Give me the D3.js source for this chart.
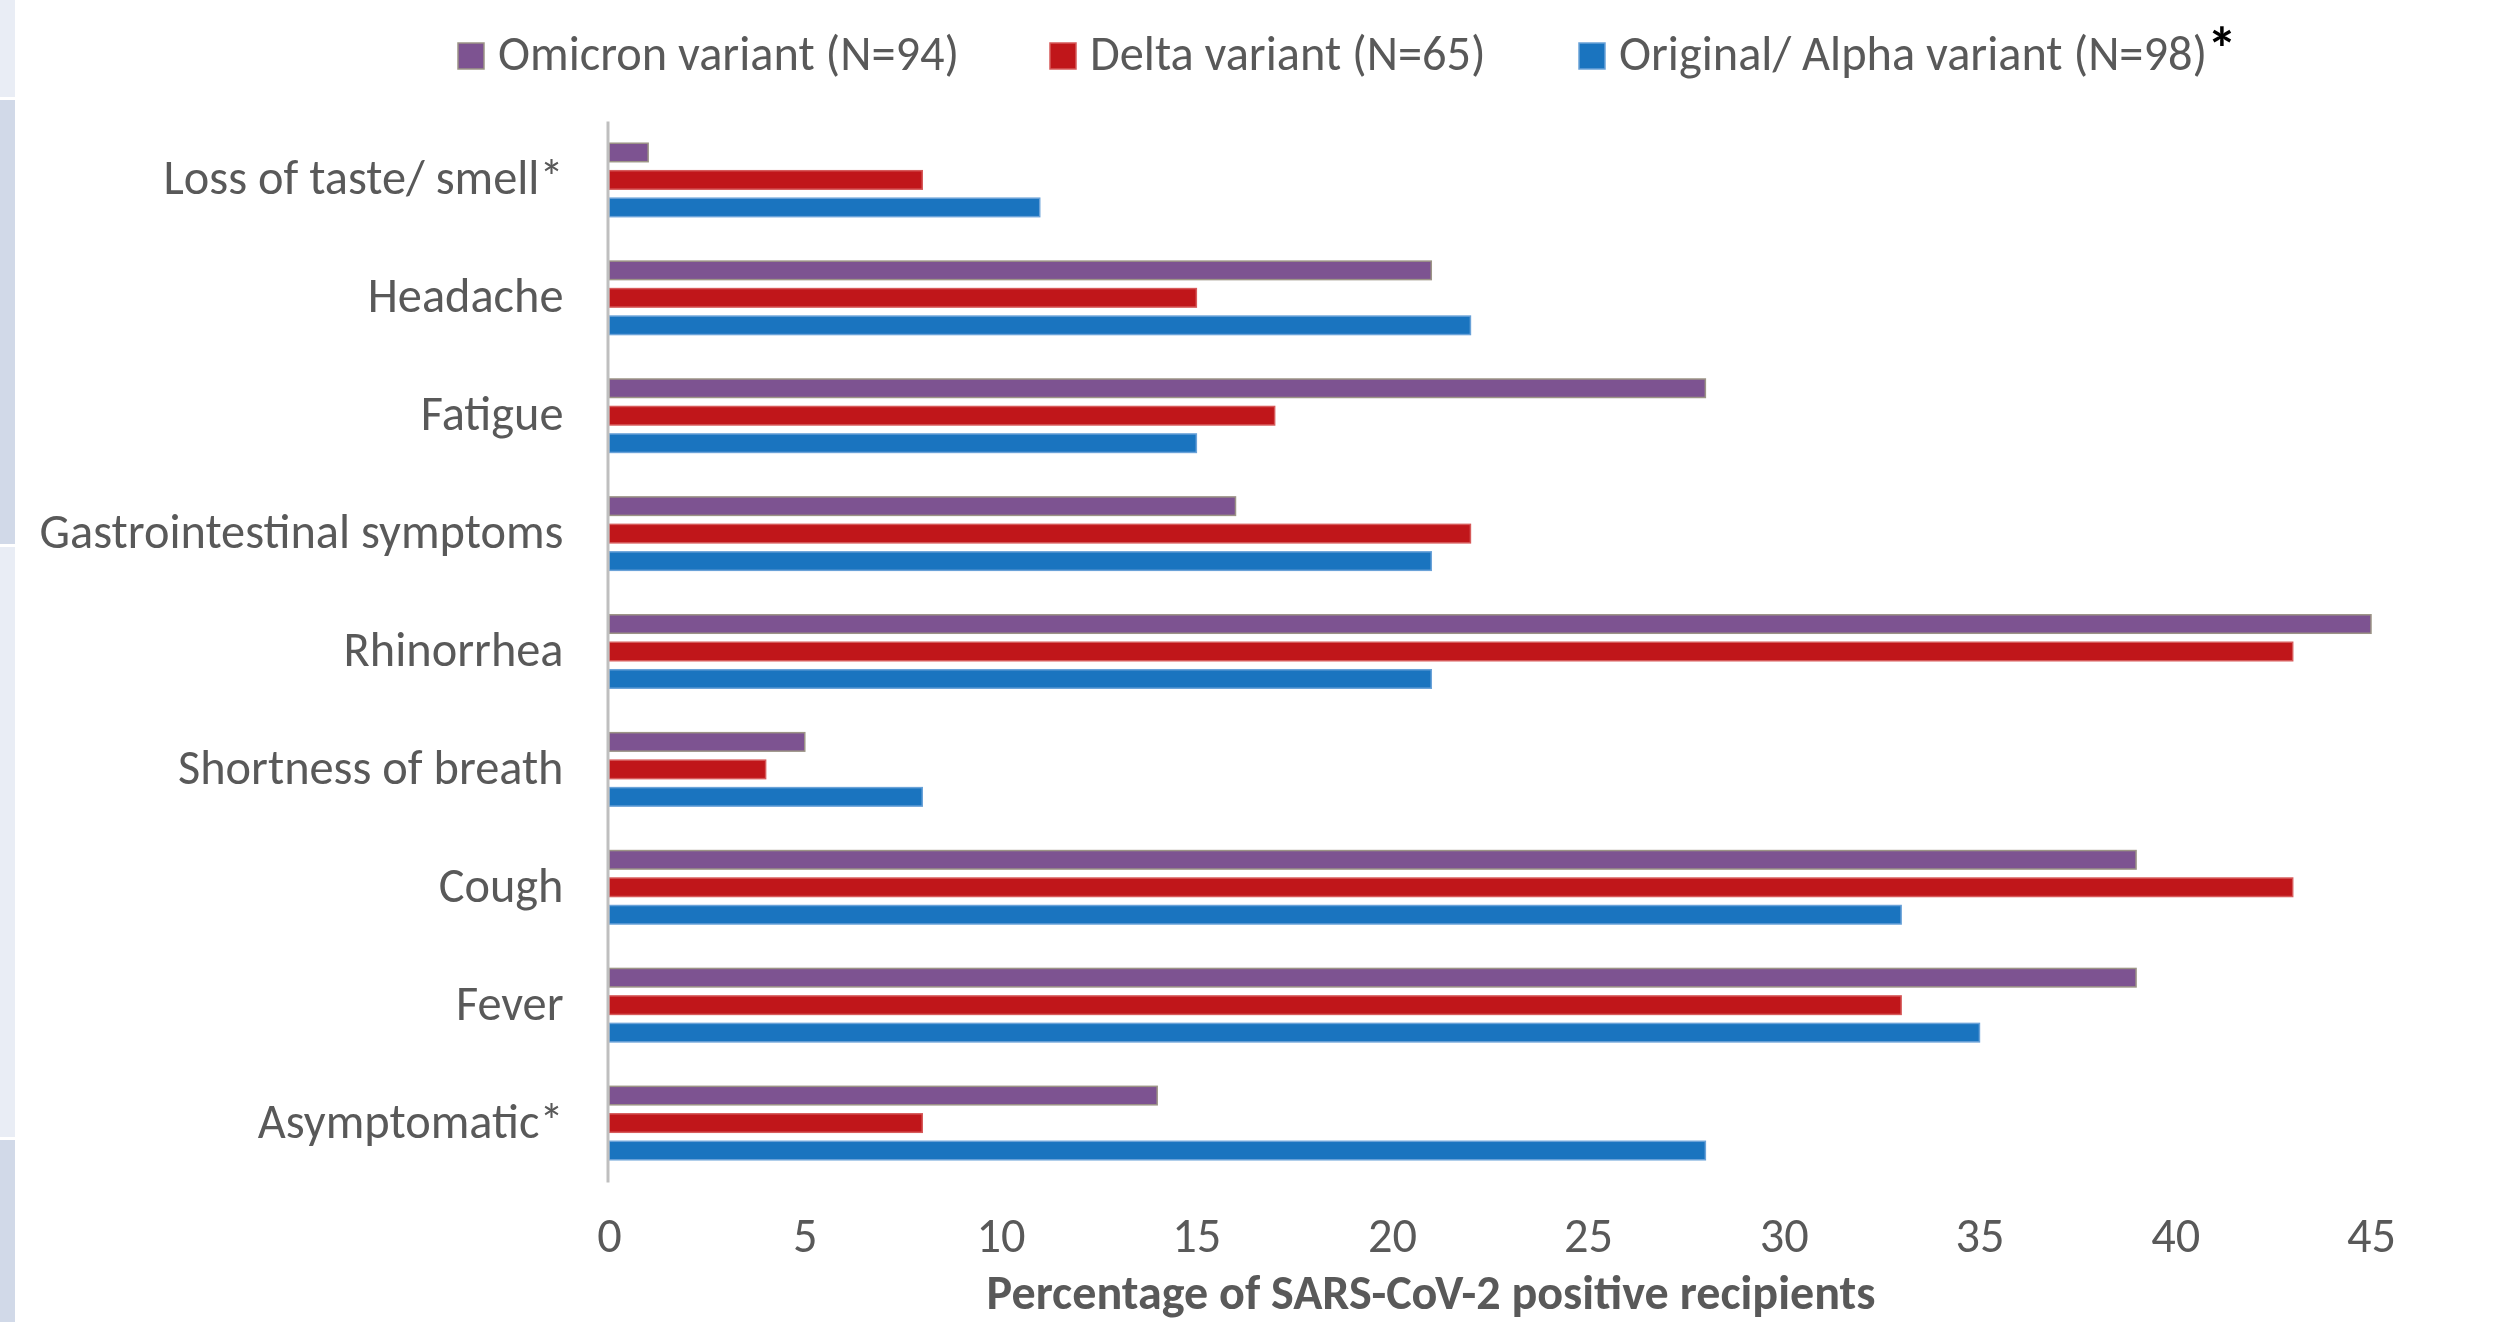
<!DOCTYPE html>
<html>
<head>
<meta charset="utf-8">
<script src="https://cdn.jsdelivr.net/npm/d3@7"></script>
<style>
  html, body { margin: 0; padding: 0; background: #ffffff; }
  svg { display: block; }
  text { font-family: Carlito, Lato, "Open Sans", sans-serif; fill: #595959; }
</style>
</head>
<body>
<svg id="chart" width="2507" height="1322"></svg>
<script>
// Symptom categories, top to bottom
const categories = [
  "Loss of taste/ smell*",
  "Headache",
  "Fatigue",
  "Gastrointestinal symptoms",
  "Rhinorrhea",
  "Shortness of breath",
  "Cough",
  "Fever",
  "Asymptomatic*"
];

// Series names (legend order) and their colours
const seriesNames = ["Omicron variant (N=94)", "Delta variant (N=65)", "Original/ Alpha variant (N=98)"];
const seriesColors = ["#7D5391", "#C0161A", "#1A74BF"];
const seriesEdges = ["#9C9486", "#D65A5A", "#6AA2D8"];

// Percentage of SARS-CoV-2 positive recipients reporting each symptom
const omicronValues = [1, 21, 28, 16, 45, 5, 39, 39, 14];
const deltaValues   = [8, 15, 17, 22, 43, 4, 43, 33, 8];
const alphaValues   = [11, 22, 15, 21, 21, 8, 33, 35, 28];

const xTickValues = [0, 5, 10, 15, 20, 25, 30, 35, 40, 45];
const xAxisTitle = "Percentage of SARS-CoV-2 positive recipients";

const seriesValues = [omicronValues, deltaValues, alphaValues];
const rows = categories.map((c, i) => ({
  category: c,
  values: seriesNames.map((s, j) => ({ series: s, idx: j, value: seriesValues[j][i] }))
}));

const svg = d3.select("#chart");

// Pale side bands along the left edge of the page
const sideBands = [
  { y0: 0, y1: 97, color: "#E9EDF5" },
  { y0: 100, y1: 544, color: "#D1D9E8" },
  { y0: 547, y1: 1137, color: "#E9EDF5" },
  { y0: 1140, y1: 1322, color: "#D1D9E8" }
];
svg.append("g").selectAll("rect").data(sideBands).join("rect")
  .attr("x", 0).attr("width", 15)
  .attr("y", d => d.y0).attr("height", d => d.y1 - d.y0)
  .attr("fill", d => d.color);

// Fit the substitute font to the Calibri-like metrics of the layout
function fitSize(sample, targetWidth, weight) {
  const t = svg.append("text").attr("font-size", 48).attr("font-weight", weight).text(sample);
  const w = t.node().getComputedTextLength();
  t.remove();
  return 48 * targetWidth / w;
}
const fontSize = fitSize("Gastrointestinal symptoms", 524, "normal");
const titleSize = fitSize(xAxisTitle, 889, "bold");

const plot = { left: 609, right: 2371, top: 121, bottom: 1182 };

const x = d3.scaleLinear().domain([0, 45]).range([plot.left, plot.right]);
const y = d3.scaleBand().domain(categories).range([plot.top, plot.bottom])
  .paddingInner(0.377).paddingOuter(0.1885);
const ySub = d3.scaleBand().domain(d3.range(seriesNames.length)).range([0, y.bandwidth()])
  .paddingInner(0.327);

// Bars
const groups = svg.append("g").selectAll("g").data(rows).join("g")
  .attr("transform", d => `translate(0,${y(d.category)})`);
groups.selectAll("rect").data(d => d.values).join("rect")
  .attr("x", x(0))
  .attr("y", d => ySub(d.idx))
  .attr("width", d => x(d.value) - x(0))
  .attr("height", ySub.bandwidth())
  .attr("fill", d => seriesColors[d.idx])
  .attr("stroke", d => seriesEdges[d.idx])
  .attr("stroke-width", 1.5);

// Category axis (vertical line + labels)
const yAxis = svg.append("g")
  .attr("transform", `translate(${plot.left - 1.5},0)`)
  .call(d3.axisLeft(y).tickSize(0).tickSizeOuter(0).tickPadding(44));
yAxis.select(".domain").attr("stroke", "#BFBFBF").attr("stroke-width", 3);
yAxis.selectAll("text")
  .attr("font-size", fontSize)
  .attr("font-family", null)
  .attr("fill", "#595959")
  .attr("dy", "0.30em");

// Value axis labels
const xAxis = svg.append("g")
  .attr("transform", `translate(0,${plot.bottom})`)
  .call(d3.axisBottom(x).tickValues(xTickValues).tickSize(0).tickFormat(d3.format("d")));
xAxis.select(".domain").remove();
xAxis.selectAll("text")
  .attr("font-size", fontSize)
  .attr("font-family", null)
  .attr("fill", "#595959")
  .attr("y", 70)
  .attr("dy", 0);

// Axis title
svg.append("text")
  .attr("x", 1431).attr("y", 1309)
  .attr("text-anchor", "middle")
  .attr("font-size", titleSize)
  .attr("font-weight", "bold")
  .text(xAxisTitle);

// Legend
const legendX = [458, 1050, 1579];
const legend = svg.append("g").selectAll("g").data(seriesNames).join("g")
  .attr("transform", (d, i) => `translate(${legendX[i]},0)`);
legend.append("rect")
  .attr("x", 0).attr("y", 43).attr("width", 26).attr("height", 26)
  .attr("fill", (d, i) => seriesColors[i])
  .attr("stroke", (d, i) => seriesEdges[i]).attr("stroke-width", 1.5);
legend.append("text")
  .attr("x", 40).attr("y", 70)
  .attr("font-size", fontSize)
  .text(d => d);

svg.append("text")
  .attr("x", 2222).attr("y", 70)
  .attr("text-anchor", "middle")
  .attr("font-size", 60)
  .attr("font-weight", "bold")
  .style("fill", "#000000")
  .text("*");
</script>
</body>
</html>
